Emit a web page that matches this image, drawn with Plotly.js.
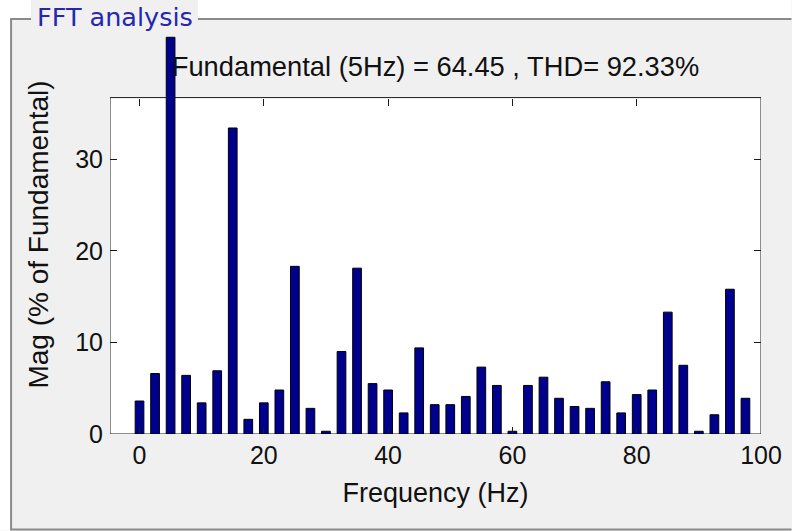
<!DOCTYPE html>
<html>
<head>
<meta charset="utf-8">
<script src="https://cdn.plot.ly/plotly-3.0.1.min.js"></script>
<style>html,body{margin:0;padding:0;background:#fff;}#chart{width:792px;height:531px;}</style>
</head>
<body>
<div id="chart"></div>
<script>
// Frequencies (Hz) and harmonic magnitudes (% of fundamental)
const frequencies = [0, 2.5, 5, 7.5, 10, 12.5, 15, 17.5, 20, 22.5,
  25, 27.5, 30, 32.5, 35, 37.5, 40, 42.5, 45, 47.5,
  50, 52.5, 55, 57.5, 60, 62.5, 65, 67.5, 70, 72.5,
  75, 77.5, 80, 82.5, 85, 87.5, 90, 92.5, 95, 97.5];
const magnitudes = [3.6, 6.6, 43.3, 6.4, 3.4, 6.9, 33.4, 1.6, 3.4, 4.8,
  18.3, 2.8, 0.3, 9.0, 18.1, 5.5, 4.8, 2.3, 9.4, 3.2,
  3.2, 4.1, 7.3, 5.3, 0.3, 5.3, 6.2, 3.9, 3.0, 2.8,
  5.7, 2.3, 4.3, 4.8, 13.3, 7.5, 0.3, 2.1, 15.8, 3.9];
const xTicks = [0, 20, 40, 60, 80, 100];
const yTicks = [0, 10, 20, 30];
const titleText = 'Fundamental (5Hz) = 64.45 , THD= 92.33%';
const panelTitle = 'FFT analysis';

// axes limits: the visible box tops out at yBoxTop, the fundamental bar pokes above it
const xRange = [-4.75, 100];
const yBoxTop = 36.72;
const yFullRange = [0, 43.55];

const font = 'Liberation Sans, Arial, Helvetica, sans-serif';
const W = 792, H = 531;
const M = {l: 110, r: 30.5, t: 35, b: 96.5};
const PW = W - M.l - M.r, PH = H - M.t - M.b;
const px = v => (v - M.l) / PW;          // page x -> paper x
const py = v => (H - M.b - v) / PH;      // page y -> paper y
const boxTopPos = py(97.7);

const bars = {
  type: 'bar', x: frequencies, y: magnitudes, width: 1.4,
  marker: {color: '#00008f', line: {color: '#000000', width: 1}},
  hoverinfo: 'x+y'
};
// empty traces only to create the mirrored tick axes (top and right)
const topAxisHolder = {type: 'scatter', x: [], y: [], xaxis: 'x2', yaxis: 'y', hoverinfo: 'skip'};
const rightAxisHolder = {type: 'scatter', x: [], y: [], xaxis: 'x', yaxis: 'y2', hoverinfo: 'skip'};

const tickCommon = {
  ticks: 'inside', ticklen: 7, tickcolor: '#1a1a1a', tickwidth: 1,
  showgrid: false, zeroline: false, showline: false,
  tickfont: {family: font, size: 25, color: '#111'}
};

const layout = {
  width: W, height: H,
  paper_bgcolor: '#f0f0f0', plot_bgcolor: 'rgba(0,0,0,0)',
  margin: M,
  showlegend: false,
  title: {
    text: titleText, font: {family: font, size: 27.3, color: '#111'},
    x: 0.5, xref: 'paper', xanchor: 'center',
    y: 1 - 66 / H, yref: 'container', yanchor: 'middle'
  },
  xaxis: Object.assign({}, tickCommon, {
    range: xRange, tickvals: xTicks, ticktext: xTicks.map(String),
    ticklabelstandoff: 4,
    title: {text: 'Frequency (Hz)', font: {family: font, size: 27, color: '#111'}, standoff: 15}
  }),
  xaxis2: Object.assign({}, tickCommon, {
    range: xRange, tickvals: xTicks, showticklabels: false,
    overlaying: 'x', side: 'top', anchor: 'free', position: boxTopPos
  }),
  yaxis: Object.assign({}, tickCommon, {
    range: yFullRange, tickvals: yTicks, ticktext: yTicks.map(String),
    ticklabelstandoff: 6,
    title: {text: 'Mag (% of Fundamental)', font: {family: font, size: 28, color: '#111'}, standoff: 18}
  }),
  yaxis2: Object.assign({}, tickCommon, {
    range: yFullRange, tickvals: yTicks, showticklabels: false,
    overlaying: 'y', side: 'right'
  }),
  shapes: [
    // white outside area (top strip and left strip)
    {type: 'rect', xref: 'paper', yref: 'paper', x0: px(0), x1: px(W), y0: py(18.5), y1: py(0),
     fillcolor: '#ffffff', line: {width: 0}, layer: 'below'},
    {type: 'rect', xref: 'paper', yref: 'paper', x0: px(0), x1: px(10.5), y0: py(H), y1: py(0),
     fillcolor: '#ffffff', line: {width: 0}, layer: 'below'},
    // grey backing behind the panel title
    {type: 'rect', xref: 'paper', yref: 'paper', x0: px(31), x1: px(198), y0: py(28), y1: py(0),
     fillcolor: '#f0f0f0', line: {width: 0}, layer: 'below'},
    // white axes box
    {type: 'rect', xref: 'x', yref: 'y', x0: xRange[0], x1: xRange[1], y0: 0, y1: yBoxTop,
     fillcolor: '#ffffff', line: {color: '#1a1a1a', width: 1}, layer: 'below'},
    // panel border lines
    {type: 'line', xref: 'paper', yref: 'paper', x0: px(11), x1: px(11), y0: py(530), y1: py(19),
     line: {color: '#8a8a8a', width: 2}},
    {type: 'line', xref: 'paper', yref: 'paper', x0: px(10), x1: px(31), y0: py(19), y1: py(19),
     line: {color: '#8a8a8a', width: 2}},
    {type: 'line', xref: 'paper', yref: 'paper', x0: px(198), x1: px(W), y0: py(19), y1: py(19),
     line: {color: '#8a8a8a', width: 2}},
    {type: 'line', xref: 'paper', yref: 'paper', x0: px(10), x1: px(W), y0: py(530), y1: py(530),
     line: {color: '#8a8a8a', width: 2}}
  ],
  annotations: [
    {text: panelTitle, xref: 'paper', yref: 'paper',
     x: px(36), xanchor: 'left', y: py(17), yanchor: 'middle',
     showarrow: false, borderpad: 0,
     font: {family: 'DejaVu Sans, sans-serif', size: 25.5, color: '#2626b0'}}
  ]
};

Plotly.newPlot('chart', [bars, topAxisHolder, rightAxisHolder], layout, {displayModeBar: false, staticPlot: true});
</script>
</body>
</html>
